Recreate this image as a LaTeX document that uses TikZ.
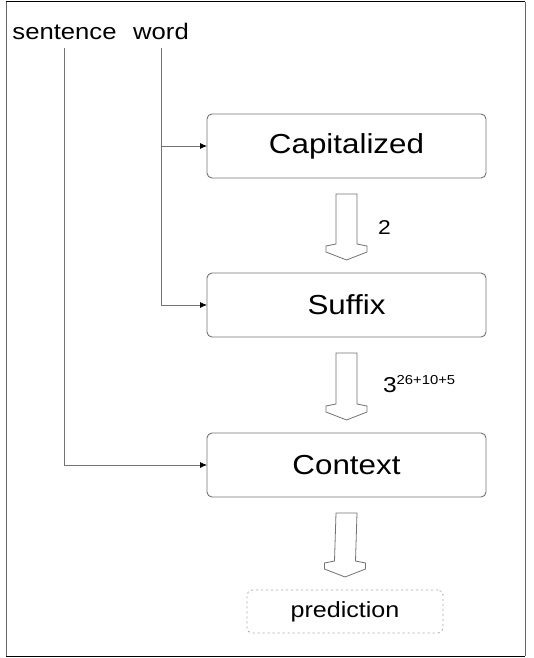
\documentclass[tikz,border=0pt]{standalone}
\usepackage{fontspec}
\setmainfont{Liberation Sans}[FakeStretch=1.14]
\usetikzlibrary{arrows.meta}
\tikzset{
  every node/.style={inner sep=0pt, outer sep=0pt},
  inlabel/.style={font=\fontsize{22.5}{24}\selectfont, anchor=base},
  stage/.style={draw=black!55, line width=0.9pt, rounded corners=5pt, minimum width=279pt, minimum height=64pt, font=\fontsize{27.5}{29}\selectfont},
  predbox/.style={draw=black!35, line width=0.8pt, dash pattern=on 2pt off 3pt, rounded corners=5pt, minimum width=196pt, minimum height=43pt, font=\fontsize{22}{24}\selectfont},
  conn/.style={draw=black!55, line width=0.8pt, -{Latex[length=7pt,width=6pt,black]}},
  blockarrow/.style={draw=black!55, line width=0.8pt, fill=white},
  arrlabel/.style={font=\fontsize{20}{22}\selectfont, anchor=base west},
  frame/.style={line width=1pt}
}
\begin{document}
\begin{tikzpicture}[x=1pt,y=-1pt]
\useasboundingbox (0,0) rectangle (534,658);
% frame
\draw[frame,black!60] (6,2) -- (6,656);
\draw[frame,black!60] (525,2) -- (525,656);
\draw[frame,black] (6,2) -- (525,2);
\draw[frame,black] (6,656) -- (525,656);

% inputs
\node[inlabel] (sentence) at (64.5,40) {sentence};
\node[inlabel] (word) at (161,40) {word};

% stages
\node[stage] (cap) at (346.5,146) {Capitalized};
\node[stage] (suf) at (346.5,305) {Suffix};
\node[stage] (ctx) at (346.5,465) {Context};
\node[predbox] (pred) at (345,611.5) {prediction};

% feed connectors
\coordinate (s0) at ([yshift=-8pt]sentence.south);
\coordinate (w0) at ([yshift=-8pt]word.south);
\draw[conn] (s0) |- (ctx.west);
\draw[conn] (w0) |- (suf.west);
\draw[conn] (w0 |- cap.west) -- (cap.west);

% block arrows
\foreach \top/\bot/\nm in {cap/suf/a1, suf/ctx/a2, ctx/pred/a3}{
  \path ([yshift=-16pt]\top.south) coordinate (\nm t)
        ([yshift=13pt]\bot.north) coordinate (\nm b);
  \draw[blockarrow]
    ([xshift=-10.5pt]\nm t) -- ([xshift=-10.5pt,yshift=16pt]\nm b)
    -- ([xshift=-20.5pt,yshift=14pt]\nm b) -- ([xshift=-20.5pt,yshift=8pt]\nm b)
    -- (\nm b)
    -- ([xshift=20.5pt,yshift=8pt]\nm b) -- ([xshift=20.5pt,yshift=14pt]\nm b)
    -- ([xshift=10.5pt,yshift=16pt]\nm b) -- ([xshift=10.5pt]\nm t) -- cycle;
}

% labels
\node[arrlabel] (l1) at (378,234) {2};
\node[arrlabel, font=\fontsize{21.5}{23}\selectfont] (l2) at (383,392) {3\raisebox{8pt}{\fontsize{13}{14}\selectfont 26+10+5}};
\end{tikzpicture}
\end{document}
